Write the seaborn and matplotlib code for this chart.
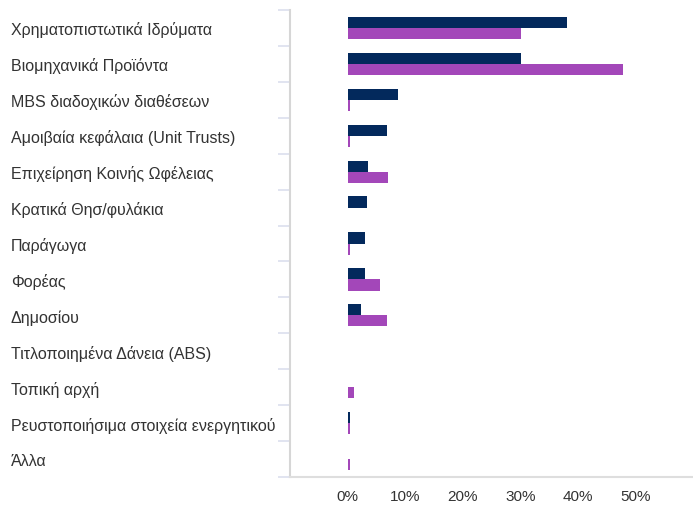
import numpy as np
import pandas as pd
import matplotlib
matplotlib.use("Agg")
import matplotlib.pyplot as plt
import seaborn as sns
from matplotlib.ticker import FixedLocator, FuncFormatter

# κατηγορίες και τιμές (%) όπως διαβάζονται από το γράφημα
categories = [
    "Χρηματοπιστωτικά Ιδρύματα",
    "Βιομηχανικά Προϊόντα",
    "MBS διαδοχικών διαθέσεων",
    "Αμοιβαία κεφάλαια (Unit Trusts)",
    "Επιχείρηση Κοινής Ωφέλειας",
    "Κρατικά Θησ/φυλάκια",
    "Παράγωγα",
    "Φορέας",
    "Δημοσίου",
    "Τιτλοποιημένα Δάνεια (ABS)",
    "Τοπική αρχή",
    "Ρευστοποιήσιμα στοιχεία ενεργητικού",
    "Άλλα",
]
series_names = ["Σειρά 1", "Σειρά 2"]
values_1 = [38.2, 30.2, 8.7, 6.9, 3.5, 3.3, 3.1, 3.1, 2.3, 0.0, 0.0, 0.35, 0.0]
values_2 = [30.2, 47.9, 0.4, 0.4, 7.1, 0.0, 0.4, 5.6, 6.9, 0.0, 1.2, 0.5, 0.5]
colors = ["#03295c", "#a347b9"]

df = pd.DataFrame({
    "category": categories * 2,
    "series": [series_names[0]] * len(categories) + [series_names[1]] * len(categories),
    "value": values_1 + values_2,
})

sns.set_style("white")
plt.rcParams["font.family"] = ["Liberation Sans", "DejaVu Sans"]

fig = plt.figure(figsize=(6.93, 5.06), dpi=100)
ax = fig.add_axes([290 / 693, 1 - 478 / 506, 1 - 290 / 693, (478 - 11) / 506])

sns.barplot(data=df, x="value", y="category", hue="series", order=categories,
            hue_order=series_names, palette=colors, orient="h", width=0.62,
            saturation=1, linewidth=0, legend=False, ax=ax)

ax.set_xlim(-10, 60)
ax.set_ylim(len(categories) - 0.5, -0.5)
ax.set_xticks([0, 10, 20, 30, 40, 50])
ax.xaxis.set_major_formatter(FuncFormatter(lambda v, p: f"{v:.0f}%"))
ax.set_xlabel("")
ax.set_ylabel("")

# διαχωριστικές γραμμές ανάμεσα στις κατηγορίες
ax.yaxis.set_minor_locator(FixedLocator(np.arange(-0.5, len(categories), 1.0)))
ax.tick_params(axis="y", which="minor", left=True, length=8.6, width=1.2, color="#dcdfee")
ax.tick_params(axis="y", which="major", left=True, length=0, pad=201, labelsize=11.5, labelcolor="#333333")
ax.tick_params(axis="x", which="major", length=0, pad=9, labelsize=11, labelcolor="#333333")
for lab in ax.get_yticklabels():
    lab.set_horizontalalignment("left")

for s in ["top", "right"]:
    ax.spines[s].set_visible(False)
ax.spines["left"].set_color("#d6d6d6")
ax.spines["left"].set_linewidth(1.5)
ax.spines["bottom"].set_color("#dedede")
ax.spines["bottom"].set_linewidth(1.5)

fig.savefig("out.png", dpi=100)
